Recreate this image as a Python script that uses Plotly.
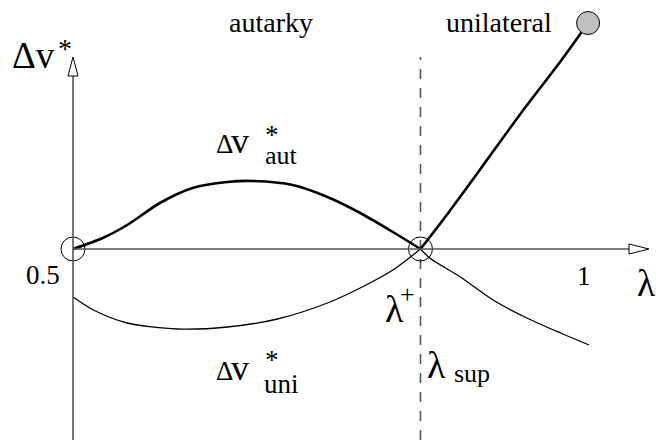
import plotly.graph_objects as go

# ---- data -------------------------------------------------------------
lam_lo, lam_hi = 0.5, 1.0          # tick labels on the lambda axis
lam_plus = 0.84                     # threshold lambda^+

# thick autarky curve (lambda, delta v*)
lam_aut = [0.500, 0.529, 0.553, 0.585, 0.617, 0.651, 0.676, 0.715, 0.749, 0.781, 0.813, 0.840]
dv_aut = [0.00, 0.11, 0.24, 0.46, 0.61, 0.67, 0.68, 0.64, 0.52, 0.36, 0.17, 0.00]

# thick unilateral branch beyond lambda^+
lam_uni_up = [0.840, 0.862, 0.898, 0.937, 0.978, 1.004]
dv_uni_up = [0.00, 0.29, 0.79, 1.34, 1.89, 2.26]

# thin unilateral curve, left and right of lambda^+
lam_uni_l = [0.500, 0.520, 0.553, 0.602, 0.651, 0.700, 0.749, 0.781, 0.813, 0.840]
dv_uni_l = [-0.48, -0.61, -0.74, -0.80, -0.78, -0.70, -0.54, -0.39, -0.21, 0.00]
lam_uni_r = [0.840, 0.849, 0.879, 0.911, 0.944, 0.977, 1.005]
dv_uni_r = [0.00, -0.09, -0.28, -0.51, -0.69, -0.84, -0.96]

# ---- frame --------------------------------------------------------------
W, H = 656, 440
X0, X1 = 0.42857, 1.07045
Y0, Y1 = -1.91, 2.49
PX = (X1 - X0) / W    # lambda units per pixel
PY = (Y1 - Y0) / H    # delta-v units per pixel

AX = "#555555"
FONT = "Liberation Serif, Times New Roman, serif"

fig = go.Figure()

def curve(x, y, width):
    fig.add_trace(go.Scatter(x=x, y=y, mode="lines",
                             line=dict(color="black", width=width, shape="spline", smoothing=0.8),
                             hoverinfo="skip"))

curve(lam_uni_l, dv_uni_l, 1.3)
curve(lam_uni_r, dv_uni_r, 1.3)
curve(lam_aut, dv_aut, 2.6)
curve(lam_uni_up, dv_uni_up, 2.6)

# open circles at the crossings, grey end point
fig.add_trace(go.Scatter(x=[lam_lo, lam_plus], y=[0, 0], mode="markers",
                         marker=dict(symbol="circle-open", size=24, color="black",
                                     line=dict(width=1)),
                         hoverinfo="skip"))
fig.add_trace(go.Scatter(x=[lam_uni_up[-1]], y=[dv_uni_up[-1]], mode="markers",
                         marker=dict(symbol="circle", size=23, color="#c0c0c0",
                                     line=dict(color="black", width=1)),
                         hoverinfo="skip"))

# axes with open arrowheads
y_top_base = Y1 - 76 * PY
y_top_tip = Y1 - 57 * PY
x_right_base = X0 + 629 * PX
x_right_tip = X0 + 649 * PX
shapes = [
    dict(type="line", x0=lam_lo, x1=lam_lo, y0=Y0, y1=y_top_base,
         line=dict(color=AX, width=1.6)),
    dict(type="line", x0=lam_lo, x1=x_right_base, y0=0, y1=0,
         line=dict(color=AX, width=1.6)),
    dict(type="path",
         path=f"M {lam_lo - 5*PX} {y_top_base} L {lam_lo} {y_top_tip} L {lam_lo + 5*PX} {y_top_base} Z",
         line=dict(color="black", width=1), fillcolor="white"),
    dict(type="path",
         path=f"M {x_right_base} {5*PY} L {x_right_tip} 0 L {x_right_base} {-5*PY} Z",
         line=dict(color="black", width=1), fillcolor="white"),
    dict(type="line", x0=lam_plus, x1=lam_plus, y0=Y0, y1=y_top_tip,
         line=dict(color=AX, width=1.6, dash="10px,9px"), layer="below"),
]

# ---- text ---------------------------------------------------------------
def label(text, px, py, size, xanchor="left"):
    fig.add_annotation(text=text, x=px / W, y=1 - py / H, xref="paper", yref="paper",
                       xanchor=xanchor, yanchor="middle", showarrow=False, borderpad=0,
                       font=dict(family=FONT, size=size, color="black"))

label("autarky", 271, 23, 28, "center")
label("unilateral", 499, 23, 28, "center")

label("Δv", 11, 56, 37)
label("*", 57, 49, 28)

label("Δ", 215, 144, 27)
label("v", 230, 141, 36)
label("*", 264, 135, 27)
label("aut", 264, 156, 26)

label("Δ", 215, 371, 27)
label("v", 230, 368, 36)
label("*", 264, 360, 27)
label("uni", 263, 384, 27)

label("0.5", 43, 275, 27, "center")
label("1", 584, 276, 27, "center")
label("λ", 636, 283, 37)

label("λ", 384, 309, 38)
label("+", 399, 294, 26)

label("λ", 426, 365, 38)
label("sup", 453, 373, 26)

fig.update_layout(
    width=W, height=H, margin=dict(l=0, r=0, t=0, b=0),
    paper_bgcolor="white", plot_bgcolor="white", showlegend=False,
    xaxis=dict(range=[X0, X1], visible=False, fixedrange=True),
    yaxis=dict(range=[Y0, Y1], visible=False, fixedrange=True),
    shapes=shapes,
)

fig.write_html("out.html")
